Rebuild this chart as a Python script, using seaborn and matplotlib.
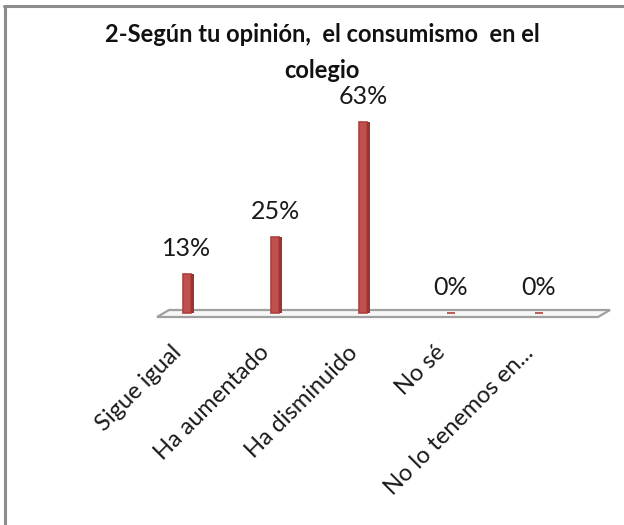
#import libraries
import seaborn as sns
import matplotlib.pyplot as plt
import matplotlib.transforms as mtransforms
import numpy as np
import pandas as pd
from matplotlib.patches import Polygon
from matplotlib.lines import Line2D

#set global styles
sns.set_style("white")
plt.rcParams["font.family"] = ["Lato", "DejaVu Sans"]

#data
categories = ["Sigue igual", "Ha aumentado", "Ha disminuido", "No sé", "No lo tenemos en..."]
values = [13, 25, 63, 0, 0]
value_labels = ["13%", "25%", "63%", "0%", "0%"]
title = "2-Según tu opinión,  el consumismo  en el\ncolegio"

df = pd.DataFrame({"opcion": categories, "pct": values})

W, H = 624, 525
fig = plt.figure(figsize=(W / 100, H / 100), dpi=100)
ax = fig.add_axes([157 / W, (H - 317) / H, (610 - 157) / W, (317 - 100) / H])

bar_w = 0.09
sns.barplot(data=df, x="opcion", y="pct", color="#C0504D", width=bar_w,
            edgecolor="#B0413E", linewidth=1.2, saturation=1, ax=ax, zorder=3)

#darker side face to mimic the 3D bars
pos = np.arange(len(categories))
ax.bar(pos + bar_w / 2 + 0.016, values, width=0.032, color="#923734",
       linewidth=0, zorder=3)

#floor of the 3D chart
floor = Polygon([(0, 0), (441 / 453, 0), (1, 7 / 217), (12 / 453, 7 / 217)],
                closed=True, transform=ax.transAxes, facecolor="#f7f7f7",
                edgecolor="#a0a0a0", linewidth=1.6, clip_on=False, zorder=2)
ax.add_patch(floor)

ax.set_xlim(-0.341, 4.807)
ax.set_ylim(-1.32, 70.3)
ax.bar_label(ax.containers[0], labels=value_labels, padding=10,
             fontsize=18, color="#1a1a1a")

ax.set_xlabel("")
ax.set_ylabel("")
ax.set_yticks([])
ax.set_xticks(pos)
ax.set_xticklabels(categories, rotation=45, ha="right", va="center",
                   rotation_mode="anchor", fontsize=17, color="#1a1a1a")
ax.tick_params(axis="x", length=0, pad=19)
shift = mtransforms.ScaledTranslation(-9 / 100, -6 / 100, fig.dpi_scale_trans)
for lab in ax.get_xticklabels():
    lab.set_transform(lab.get_transform() + shift)
for s in ax.spines.values():
    s.set_visible(False)
ax.patch.set_alpha(0)

fig.text(322 / W, 1 - 23 / H, title, ha="center", va="top",
         fontsize=17, fontweight="bold", linespacing=1.7, color="#111111")

#outer frame (left and top edges)
frame_kw = dict(color="#8c8c8c", linewidth=2.2, transform=fig.transFigure)
fig.add_artist(Line2D([5 / W, 5 / W], [0, 1 - 5.5 / H], **frame_kw))
fig.add_artist(Line2D([4 / W, 1], [1 - 5.5 / H, 1 - 5.5 / H], **frame_kw))

fig.savefig("out.png", dpi=100)
